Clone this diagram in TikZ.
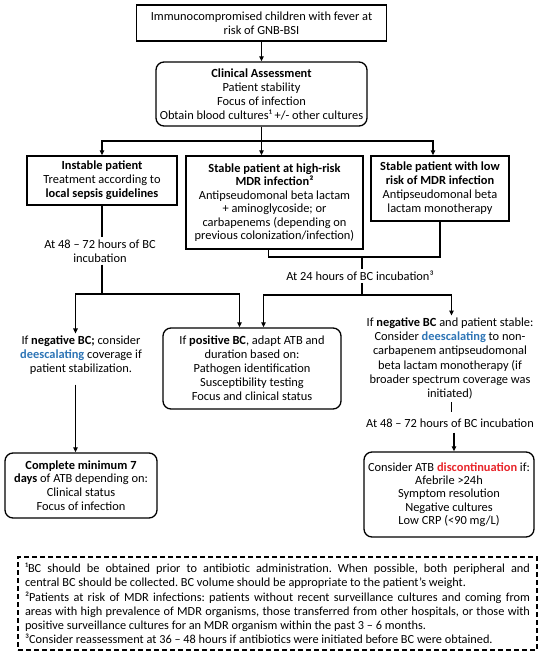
\documentclass[tikz,border=0pt]{standalone}
\usepackage{fontspec}
\setmainfont{Carlito}
\usetikzlibrary{arrows.meta}
\definecolor{deblue}{HTML}{2E75B6}
\definecolor{dred}{HTML}{E8262B}
\frenchspacing
\begin{document}
\begin{tikzpicture}[x=1pt,y=-1pt,
  every node/.style={font=\fontsize{12.4}{14}\selectfont, align=center},
  sbox/.style={draw, line width=1.3pt, inner sep=0pt},
  rbox/.style={sbox, rounded corners=8pt},
  txt/.style={inner sep=2pt},
  ln/.style={line width=1.2pt},
  arr/.style={ln, -{Triangle[length=5pt,width=4.5pt]}},
]
\useasboundingbox (0,0) rectangle (550,659);
\fill[white] (0,0) rectangle (550,659);

% boxes
\node[sbox, minimum width=250pt, minimum height=36pt] (top) at (261.5,23)
  {Immunocompromised children with fever at\\risk of GNB-BSI};
\node[rbox, minimum width=211pt, minimum height=64pt] (clin) at (261.5,94)
  {\textbf{Clinical Assessment}\\Patient stability\\Focus of infection\\Obtain blood cultures¹ +/- other cultures};
\node[sbox, minimum width=150pt, minimum height=49pt] (b1) at (102,180.5)
  {\textbf{Instable patient}\\Treatment according to\\\textbf{local sepsis guidelines}};
\node[sbox, minimum width=177pt, minimum height=93pt, font=\fontsize{12.4}{13.5}\selectfont] (b2) at (274.5,202.5)
  {\textbf{Stable patient at high-risk}\\\textbf{MDR infection²}\\Antipseudomonal beta lactam\\+ aminoglycoside; or\\carbapenems (depending on\\previous colonization/infection)};
\node[sbox, minimum width=138pt, minimum height=65pt] (b3) at (440,188.5)
  {\textbf{Stable patient with low}\\\textbf{risk of MDR infection}\\Antipseudomonal beta\\lactam monotherapy};
\node[txt] (t48a) at (100,251) {At 48 – 72 hours of BC\\incubation};
\node[txt] (t24) at (360,276) {At 24 hours of BC incubation³};
\node[txt] (negL) at (81,355)
  {If \textbf{negative BC;} consider\\\textcolor{deblue}{\textbf{deescalating}} coverage if\\patient stabilization.};
\node[rbox, minimum width=178pt, minimum height=81pt] (pos) at (252,368.5)
  {If \textbf{positive BC}, adapt ATB and\\duration based on:\\Pathogen identification\\Susceptibility testing\\Focus and clinical status};
\node[txt, font=\fontsize{12.4}{14.2}\selectfont] (negR) at (450,358.5)
  {If \textbf{negative BC} and patient stable:\\Consider \textcolor{deblue}{\textbf{deescalating}} to non-\\carbapenem antipseudomonal\\beta lactam monotherapy (if\\broader spectrum coverage was\\initiated)};
\node[txt] (t48b) at (450,423) {At 48 – 72 hours of BC incubation};
\node[rbox, minimum width=152pt, minimum height=65pt, font=\fontsize{12.4}{13.7}\selectfont] (comp) at (81,485.5)
  {\textbf{Complete minimum 7}\\\textbf{days} of ATB depending on:\\Clinical status\\Focus of infection};
\node[rbox, minimum width=170pt, minimum height=85pt, font=\fontsize{12.4}{13.4}\selectfont] (disc) at (449,494.5)
  {Consider ATB \textcolor{dred}{\textbf{discontinuation}} if:\\Afebrile >24h\\Symptom resolution\\Negative cultures\\Low CRP (<90 mg/L)};
\node[draw, line width=1.2pt, dash pattern=on 5pt off 3pt, minimum width=519pt, minimum height=93pt,
      inner xsep=7pt, inner ysep=0pt, align=left, font=\fontsize{12.3}{14.2}\selectfont] (foot) at (277.5,603.5)
  {\hbox to 505pt{¹BC should be obtained prior to antibiotic administration. When possible, both peripheral and}\\
   \hbox to 505pt{central BC should be collected. BC volume should be appropriate to the patient’s weight.\hfil}\\
   \hbox to 505pt{²Patients at risk of MDR infections: patients without recent surveillance cultures and coming from}\\
   \hbox to 505pt{areas with high prevalence of MDR organisms, those transferred from other hospitals, or those with}\\
   \hbox to 505pt{positive surveillance cultures for an MDR organism within the past 3 – 6 months.\hfil}\\
   \hbox to 505pt{³Consider reassessment at 36 – 48 hours if antibiotics were initiated before BC were obtained.\hfil}};

% junction points
\coordinate (br) at (261.5,141);
\coordinate (jl) at (102,294);
\coordinate (jr) at (362,257);
\coordinate (jr2) at (362,295);

% connectors
\draw[arr] (top.south) -- (clin.north);
\draw[ln] (clin.south) -- (br);
\draw[arr] (br) -| (b1.north);
\draw[arr] (br) -- (br |- b2.north);
\draw[arr] (br) -| ([xshift=-7pt]b3.north);

\draw[ln] (b1.south) -- (b1.south |- t48a.north);
\draw[ln] (t48a.south -| jl) -- (jl);
\draw[arr] (jl) -| ([xshift=-5.5pt]negL.north);
\draw[arr] (jl) -| ([xshift=-12.5pt]pos.north);
\draw[arr, shorten <=8pt] ([xshift=-5.5pt]negL.south) -- ([xshift=-5.5pt]negL.south |- comp.north);

\draw[ln] ([xshift=-6pt]b2.south) |- (jr);
\draw[ln] (b3.south) |- (jr);
\draw[ln] (jr) -- (jr |- t24.north);
\draw[ln] (t24.south -| jr) -- (jr2);
\draw[arr] (jr2) -| ([xshift=11.5pt]pos.north);
\draw[arr] (jr2) -| ([xshift=1.5pt]negR.north);
\draw[ln, shorten <=1pt, shorten >=4pt] ([xshift=1.5pt]negR.south) -- ([xshift=1.5pt]negR.south |- t48b.north);
\draw[arr, shorten <=3pt] ([xshift=4pt]t48b.south) -- ([xshift=4pt]t48b.south |- disc.north);
\end{tikzpicture}
\end{document}
